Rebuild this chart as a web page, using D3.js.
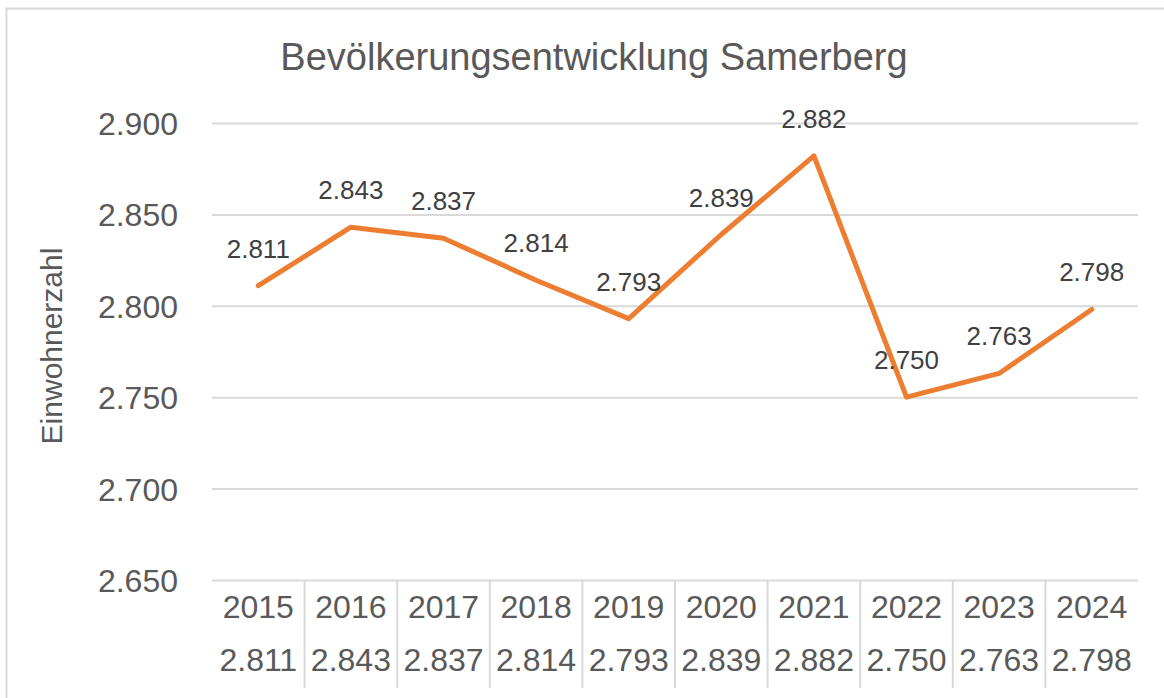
<!DOCTYPE html>
<html>
<head>
<meta charset="utf-8">
<script src="https://cdn.jsdelivr.net/npm/d3@7"></script>
<style>
  body { margin: 0; background: #fff; }
  text { font-family: "Liberation Sans", Arial, sans-serif; }
</style>
</head>
<body>
<div id="chart"></div>
<script>
// data
var years = ['2015', '2016', '2017', '2018', '2019', '2020', '2021', '2022', '2023', '2024'];
var einwohner = [2811, 2843, 2837, 2814, 2793, 2839, 2882, 2750, 2763, 2798];
var yTicks = [2650, 2700, 2750, 2800, 2850, 2900];

var width = 1164, height = 698;
var plot_left = 212, plot_right = 1138, plot_top = 123, plot_bottom = 580;
var grid_color = '#d9d9d9';
var text_color = '#595959';
var line_color = '#ed7d31';

// german number format (2.811)
var de = d3.formatLocale({decimal: ',', thousands: '.', grouping: [3], currency: ['', ' €']});
var fmt = de.format(',d');

var svg = d3.select('#chart')
  .append('svg')
  .attr('width', width)
  .attr('height', height);

// outer frame
svg.append('rect')
  .attr('x', 6.5).attr('y', 8.5)
  .attr('width', width + 10).attr('height', height + 10)
  .attr('fill', 'none')
  .attr('stroke', grid_color)
  .attr('stroke-width', 2);

var x = d3.scaleBand().domain(years).range([plot_left, plot_right]);
var y = d3.scaleLinear().domain([2650, 2900]).range([plot_bottom, plot_top]);

// gridlines + y labels
var yAxis = d3.axisLeft(y)
  .tickValues(yTicks)
  .tickSize(-(plot_right - plot_left))
  .tickPadding(34)
  .tickFormat(fmt);

var gy = svg.append('g')
  .attr('transform', 'translate(' + plot_left + ',0)')
  .call(yAxis);
gy.select('.domain').remove();
gy.selectAll('.tick line').attr('stroke', grid_color).attr('stroke-width', 2);
gy.selectAll('.tick text')
  .attr('fill', text_color)
  .style('font-size', '32px')
  .attr('dy', '0.36em');

// title
svg.append('text')
  .attr('x', 594).attr('y', 70)
  .attr('text-anchor', 'middle')
  .attr('fill', text_color)
  .style('font-size', '38px')
  .text('Bevölkerungsentwicklung Samerberg');

// y axis title
svg.append('text')
  .attr('transform', 'translate(62,346) rotate(-90)')
  .attr('text-anchor', 'middle')
  .attr('fill', text_color)
  .style('font-size', '30px')
  .text('Einwohnerzahl');

// data table below the plot
var table = svg.append('g');
table.selectAll('.sep')
  .data(years.slice(1))
  .enter()
  .append('line')
  .attr('class', 'sep')
  .attr('x1', function (d) {return x(d);})
  .attr('x2', function (d) {return x(d);})
  .attr('y1', plot_bottom)
  .attr('y2', 688)
  .attr('stroke', grid_color)
  .attr('stroke-width', 2);

table.selectAll('.year')
  .data(years)
  .enter()
  .append('text')
  .attr('class', 'year')
  .attr('x', function (d) {return x(d) + x.bandwidth() / 2;})
  .attr('y', 618)
  .attr('text-anchor', 'middle')
  .attr('fill', text_color)
  .style('font-size', '32px')
  .text(function (d) {return d;});

table.selectAll('.val')
  .data(einwohner)
  .enter()
  .append('text')
  .attr('class', 'val')
  .attr('x', function (d, i) {return x(years[i]) + x.bandwidth() / 2;})
  .attr('y', 671)
  .attr('text-anchor', 'middle')
  .attr('fill', text_color)
  .style('font-size', '32px')
  .text(function (d) {return fmt(d);});

// line
var line = d3.line()
  .x(function (d, i) {return x(years[i]) + x.bandwidth() / 2;})
  .y(function (d) {return y(d);});

svg.append('path')
  .datum(einwohner)
  .attr('d', line)
  .attr('fill', 'none')
  .attr('stroke', line_color)
  .attr('stroke-width', 5)
  .attr('stroke-linecap', 'round')
  .attr('stroke-linejoin', 'round');

// data labels
svg.selectAll('.lbl')
  .data(einwohner)
  .enter()
  .append('text')
  .attr('class', 'lbl')
  .attr('x', function (d, i) {return x(years[i]) + x.bandwidth() / 2;})
  .attr('y', function (d) {return y(d) - 28;})
  .attr('text-anchor', 'middle')
  .attr('fill', '#404040')
  .style('font-size', '26px')
  .text(function (d) {return fmt(d);});
</script>
</body>
</html>
